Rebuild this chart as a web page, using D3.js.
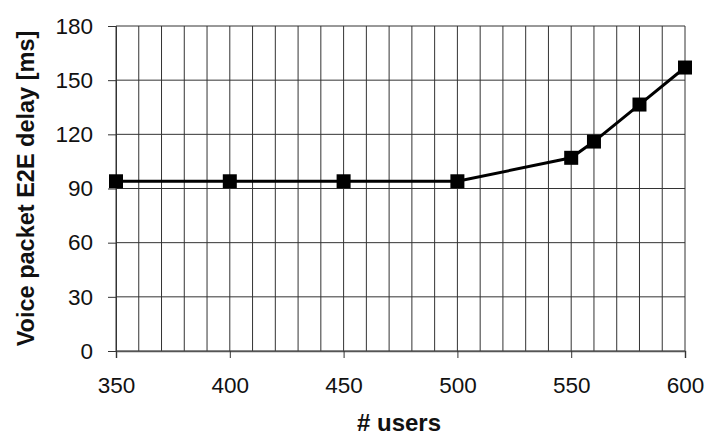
<!DOCTYPE html>
<html><head><meta charset="utf-8">
<script src="https://cdn.jsdelivr.net/npm/d3@7"></script>
<style>body{margin:0;background:#fff}svg{display:block}text{font-family:"Liberation Sans",Arial,sans-serif}</style>
</head><body><svg id="c" width="707" height="437"></svg>
<script>
const users = [350, 400, 450, 500, 550, 560, 580, 600];
const delay = [94, 94, 94, 94, 107, 116, 136.5, 157];
const xTicks = [350, 400, 450, 500, 550, 600];
const yTicks = [0, 30, 60, 90, 120, 150, 180];
const xGrid = d3.range(350, 601, 10);

const svg = d3.select("#c");
const L = 116, R = 685, T = 26, B = 351;
const x = d3.scaleLinear().domain([350, 600]).range([L, R]);
const y = d3.scaleLinear().domain([0, 180]).range([B, T]);

const g = svg.append("g");
g.selectAll(".vg").data(xGrid).enter().append("line")
  .attr("x1", d => x(d)).attr("x2", d => x(d)).attr("y1", T).attr("y2", B)
  .attr("stroke", "#333").attr("stroke-width", 1);
g.selectAll(".hg").data(yTicks).enter().append("line")
  .attr("x1", L).attr("x2", R).attr("y1", d => y(d)).attr("y2", d => y(d))
  .attr("stroke", "#333").attr("stroke-width", 1);

const ya = svg.append("g").attr("transform", `translate(${L},0)`)
  .call(d3.axisLeft(y).tickValues(yTicks).tickSize(8).tickPadding(15));
ya.select(".domain").attr("stroke", "#333");
ya.selectAll(".tick line").attr("stroke", "#333");
ya.selectAll("text").style("font-size", "22.5px").attr("fill", "#111").style("font-family", "Liberation Sans, Arial, sans-serif");

const xa = svg.append("g").attr("transform", `translate(0,${B})`)
  .call(d3.axisBottom(x).tickValues(xTicks).tickSize(7).tickPadding(19));
xa.select(".domain").attr("stroke", "#555").attr("stroke-width", 1.5);
xa.selectAll(".tick line").attr("stroke", "#333");
xa.selectAll("text").style("font-size", "22.5px").attr("fill", "#111").style("font-family", "Liberation Sans, Arial, sans-serif");

const line = d3.line().x((d, i) => x(users[i])).y(d => y(d));
svg.append("path").datum(delay).attr("d", line)
  .attr("fill", "none").attr("stroke", "#000").attr("stroke-width", 3);

const s = 14;
svg.selectAll(".m").data(delay).enter().append("rect")
  .attr("x", (d, i) => x(users[i]) - s / 2).attr("y", d => y(d) - s / 2)
  .attr("width", s).attr("height", s).attr("fill", "#000");

svg.append("text").attr("x", 399).attr("y", 431).attr("text-anchor", "middle")
  .style("font-size", "24px").attr("font-weight", "bold").attr("fill", "#111").text("# users");
svg.append("text").attr("transform", `translate(33.5,188.5) rotate(-90)`)
  .attr("text-anchor", "middle").style("font-size", "23.5px").attr("font-weight", "bold").attr("fill", "#111")
  .text("Voice packet E2E delay [ms]");
</script></body></html>
